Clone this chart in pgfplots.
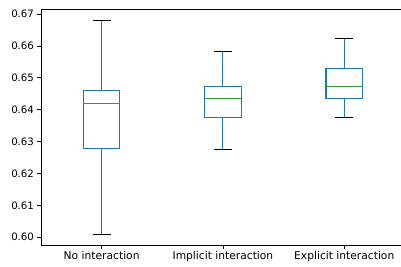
\documentclass[border=0pt]{standalone}
\usepackage{pgfplots}
\pgfplotsset{compat=1.18}
\usepgfplotslibrary{statistics}
\usepackage{fontspec}
\setmainfont{DejaVu Sans}
\definecolor{c0}{HTML}{1F77B4}
\definecolor{c2}{HTML}{2CA02C}
\begin{document}
\begin{tikzpicture}
\begin{axis}[
  at={(0,0)}, anchor=south west,
  scale only axis, width=360pt, height=236.5pt,
  xmin=0.5, xmax=3.468,
  ymin=0.5974, ymax=0.6716,
  axis x line=box, axis y line=left,
  axis line style={line width=0.8pt, black, -},
  xtick={1,2,3},
  xticklabels={No interaction, Implicit interaction, Explicit interaction},
  ytick={0.60,0.61,0.62,0.63,0.64,0.65,0.66,0.67},
  xtick pos=bottom, ytick pos=left,
  tick align=outside, major tick length=3.5pt,
  tick style={line width=0.8pt, black},
  yticklabel style={font=\fontsize{10.2}{12}\selectfont, /pgf/number format/fixed, /pgf/number format/fixed zerofill, /pgf/number format/precision=2},
  /pgf/number format/assume math mode=true,
  xticklabel style={font=\fontsize{10.7}{12}\selectfont, yshift=1pt},
  boxplot/draw direction=y,
  boxplot/box extend=0.3,
  boxplot/whisker extend=0.15,
  boxplot/every box/.style={draw=c0, line width=1.1pt},
  boxplot/every median/.style={draw=c2, line width=1.1pt},
  boxplot/draw/lower whisker/.code={%
    \draw[c0, line width=1.1pt] (boxplot cs:\pgfplotsboxplotvalue{lower whisker}) -- (boxplot cs:\pgfplotsboxplotvalue{lower quartile});
    \draw[black, line width=1.1pt] (boxplot whisker cs:\pgfplotsboxplotvalue{lower whisker},0) -- (boxplot whisker cs:\pgfplotsboxplotvalue{lower whisker},1);
  },
  boxplot/draw/upper whisker/.code={%
    \draw[c0, line width=1.1pt] (boxplot cs:\pgfplotsboxplotvalue{upper whisker}) -- (boxplot cs:\pgfplotsboxplotvalue{upper quartile});
    \draw[black, line width=1.1pt] (boxplot whisker cs:\pgfplotsboxplotvalue{upper whisker},0) -- (boxplot whisker cs:\pgfplotsboxplotvalue{upper whisker},1);
  },
]
\addplot[draw=c0, boxplot prepared={draw position=1, lower whisker=0.6009, lower quartile=0.6279, median=0.6420, upper quartile=0.6459, upper whisker=0.6681}] coordinates {};
\addplot[draw=c0, boxplot prepared={draw position=2, lower whisker=0.6275, lower quartile=0.6377, median=0.6435, upper quartile=0.6474, upper whisker=0.6584}] coordinates {};
\addplot[draw=c0, boxplot prepared={draw position=3, lower whisker=0.6377, lower quartile=0.6435, median=0.6474, upper quartile=0.6530, upper whisker=0.6624}] coordinates {};
\end{axis}
\pgfresetboundingbox
\path[use as bounding box] (-41pt,-21.5pt) rectangle (360pt,245.5pt);
\end{tikzpicture}
\end{document}
